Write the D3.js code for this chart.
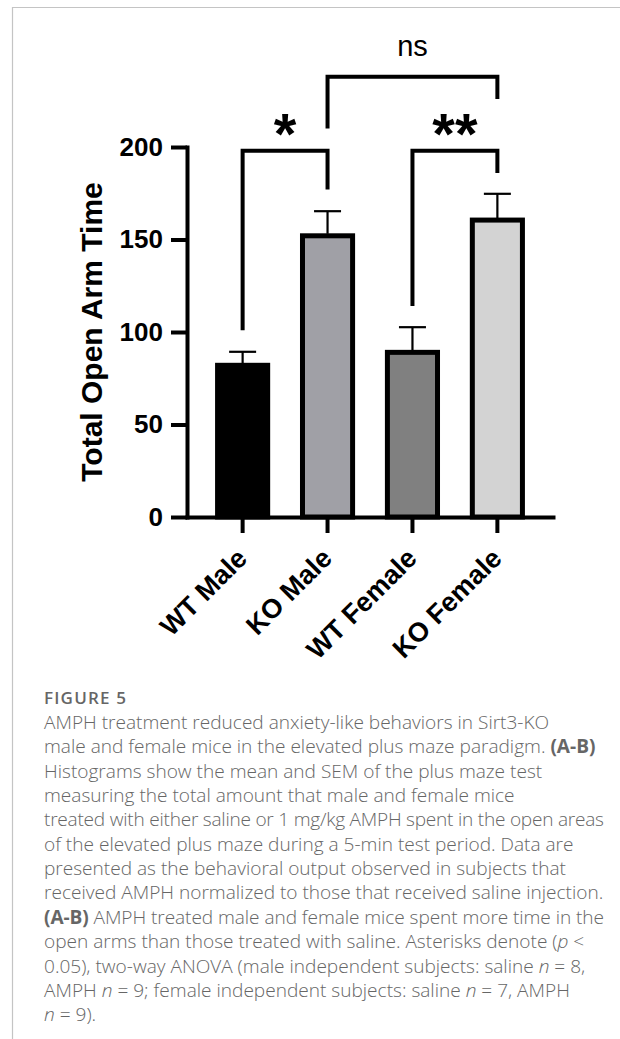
<!DOCTYPE html>
<html>
<head>
<meta charset="utf-8">
<script src="https://cdn.jsdelivr.net/npm/d3@7"></script>
<style>
	html, body { margin: 0; padding: 0; background: #fff; }
	svg { display: block; }
	.axis text { font-family: "Liberation Sans", Arial, sans-serif; font-weight: bold; }
	.caption { font-family: "Open Sans", "Noto Sans", sans-serif; fill: #666; }
</style>
</head>
<body>
<div id="chart"></div>
<script>
// values
const groups = ['WT Male', 'KO Male', 'WT Female', 'KO Female']
const means = [82, 152, 89, 160.5]
const sems = [7.3, 13.3, 13.6, 14.2]
const fills = ['#000000', '#a0a0a6', '#808080', '#d3d3d3']
const yTicks = [0, 50, 100, 150, 200]

// significance brackets: from group, to group, top, left leg end, right leg end (data units)
const brackets = [
	{ from: 0, to: 1, top: 198, left: 101, right: 177, label: '*' },
	{ from: 2, to: 3, top: 198, left: 114, right: 186, label: '**' },
	{ from: 1, to: 3, top: 238, left: 210, right: 226, label: 'ns' },
]

// caption, one entry per printed line; segments are [text, style]
const captionTitle = 'FIGURE 5'
const captionLines = [
	[['AMPH treatment reduced anxiety-like behaviors in Sirt3-KO', '']],
	[['male and female mice in the elevated plus maze paradigm. ', ''], ['(A-B)', 'b']],
	[['Histograms show the mean and SEM of the plus maze test', '']],
	[['measuring the total amount that male and female mice', '']],
	[['treated with either saline or 1 mg/kg AMPH spent in the open areas', '']],
	[['of the elevated plus maze during a 5-min test period. Data are', '']],
	[['presented as the behavioral output observed in subjects that', '']],
	[['received AMPH normalized to those that received saline injection.', '']],
	[['(A-B)', 'b'], [' AMPH treated male and female mice spent more time in the', '']],
	[['open arms than those treated with saline. Asterisks denote (', ''], ['p', 'i'], [' <', '']],
	[['0.05), two-way ANOVA (male independent subjects: saline ', ''], ['n', 'i'], [' = 8,', '']],
	[['AMPH ', ''], ['n', 'i'], [' = 9; female independent subjects: saline ', ''], ['n', 'i'], [' = 7, AMPH', '']],
	[['n', 'i'], [' = 9).', '']],
]

const width = 620
const height = 1039

const svg = d3.select('#chart')
	.append('svg')
	.attr('width', width)
	.attr('height', height)

// page frame (thin grey rule top and left)
svg.append('path')
	.attr('d', 'M12.5,1039V7.5H620')
	.attr('fill', 'none')
	.attr('stroke', '#c4c4c4')
	.attr('stroke-width', 1.2)

const x = d3.scaleBand()
	.domain(groups)
	.range([187, 553])
	.paddingInner(0.41)
	.paddingOuter(0.36)

const y = d3.scaleLinear()
	.domain([0, 200])
	.range([517, 147])

const cx = i => x(groups[i]) + x.bandwidth() / 2

// bars
svg.selectAll('rect.bar')
	.data(means)
	.join('rect')
	.attr('class', 'bar')
	.attr('x', (d, i) => x(groups[i]))
	.attr('y', d => y(d))
	.attr('width', x.bandwidth())
	.attr('height', d => y(0) - y(d))
	.attr('fill', (d, i) => fills[i])
	.attr('stroke', '#000')
	.attr('stroke-width', 5)

// SEM error bars (upper only)
const err = svg.selectAll('g.err')
	.data(means)
	.join('g')
	.attr('class', 'err')
	.attr('stroke', '#000')
	.attr('stroke-width', 2.2)

err.append('line')
	.attr('x1', (d, i) => cx(i))
	.attr('x2', (d, i) => cx(i))
	.attr('y1', d => y(d) - 2)
	.attr('y2', (d, i) => y(d + sems[i]))

err.append('line')
	.attr('x1', (d, i) => cx(i) - 13.5)
	.attr('x2', (d, i) => cx(i) + 13.5)
	.attr('y1', (d, i) => y(d + sems[i]))
	.attr('y2', (d, i) => y(d + sems[i]))

// axes
const yAxis = svg.append('g')
	.attr('class', 'axis')
	.attr('transform', 'translate(187,0)')
	.call(d3.axisLeft(y).tickValues(yTicks).tickSize(16).tickSizeOuter(0).tickPadding(8))

const xAxis = svg.append('g')
	.attr('class', 'axis')
	.attr('transform', `translate(0,${y(0)})`)
	.call(d3.axisBottom(x).tickSize(16).tickSizeOuter(0))

svg.selectAll('.axis path.domain')
	.attr('stroke-width', 4)
	.attr('stroke-linecap', 'square')
svg.selectAll('.axis .tick line')
	.attr('stroke-width', 4)

yAxis.selectAll('.tick text')
	.attr('font-size', 26)
	.attr('fill', '#000')

xAxis.selectAll('.tick text')
	.attr('font-size', 27)
	.attr('fill', '#000')
	.attr('text-anchor', 'end')
	.attr('dy', null)
	.attr('y', null)
	.attr('transform', 'translate(6,43) rotate(-45)')

svg.append('text')
	.attr('class', 'axis')
	.attr('transform', `translate(102,${(y(0) + y(200)) / 2}) rotate(-90)`)
	.attr('text-anchor', 'middle')
	.attr('font-family', '"Liberation Sans", Arial, sans-serif')
	.attr('font-weight', 'bold')
	.attr('font-size', 30)
	.text('Total Open Arm Time')

// significance brackets
const br = svg.selectAll('g.bracket')
	.data(brackets)
	.join('g')
	.attr('class', 'bracket')

br.append('path')
	.attr('d', d => `M${cx(d.from)},${y(d.left)}V${y(d.top)}H${cx(d.to)}V${y(d.right)}`)
	.attr('fill', 'none')
	.attr('stroke', '#000')
	.attr('stroke-width', 4)
	.attr('stroke-linecap', 'butt')
	.attr('stroke-linejoin', 'miter')

br.append('text')
	.attr('x', d => (cx(d.from) + cx(d.to)) / 2)
	.attr('y', d => d.label === 'ns' ? y(d.top) - 21 : y(d.top) + 3)
	.attr('text-anchor', 'middle')
	.attr('font-family', '"Liberation Sans", Arial, sans-serif')
	.attr('font-weight', d => d.label === 'ns' ? 'normal' : 'bold')
	.attr('font-size', d => d.label === 'ns' ? 29 : 58)
	.text(d => d.label)

// caption
const cap = svg.append('g').attr('class', 'caption')
const capX = 44
const capMax = 560
// the 4th body line ("...male and female mice") runs to x = 515 in the figure
const refLine = 3
const refWidth = 515 - capX

cap.append('text')
	.attr('x', capX)
	.attr('y', 704)
	.attr('font-size', 17)
	.attr('font-weight', 600)
	.attr('textLength', 82)
	.attr('lengthAdjust', 'spacing')
	.text(captionTitle)

const lines = captionLines.map((segs, i) => {
	const t = cap.append('text')
		.attr('x', capX)
		.attr('y', 729 + i * 24.35)
		.attr('font-size', 17)
		.attr('font-weight', 300)
	segs.forEach(([txt, st]) => {
		t.append('tspan')
			.attr('font-weight', st === 'b' ? 700 : null)
			.attr('font-style', st === 'i' ? 'italic' : null)
			.text(txt)
	})
	return t
})

// scale the caption font so its measure matches the figure
const fs = 17 * refWidth / lines[refLine].node().getComputedTextLength()
lines.forEach(t => {
	t.attr('font-size', fs)
	if (t.node().getComputedTextLength() > capMax) t.attr('textLength', capMax).attr('lengthAdjust', 'spacing')
})
</script>
</body>
</html>
